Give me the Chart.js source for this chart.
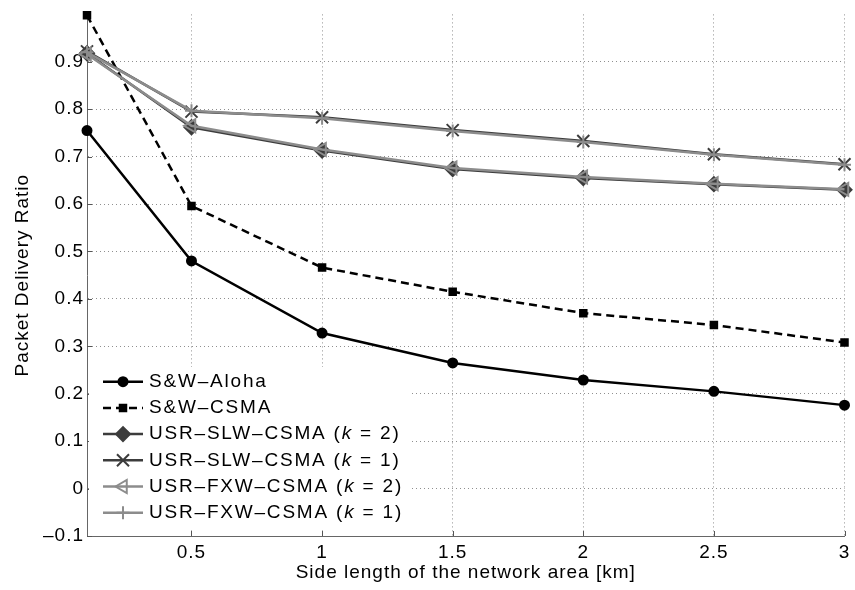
<!DOCTYPE html>
<html>
<head>
<meta charset="utf-8">
<script src="https://cdn.jsdelivr.net/npm/chart.js@4/dist/chart.umd.min.js"></script>
<style>
  html, body { margin: 0; padding: 0; background: #fff; }
  #wrap { width: 855px; height: 590px; }
</style>
</head>
<body>
<div id="wrap"><canvas id="pdrChart" width="855" height="590"></canvas></div>
<script>
// side length of the network area [km]
const sideLen = [0.1, 0.5, 1, 1.5, 2, 2.5, 3];

// packet delivery ratio per protocol
const swAloha = [0.755, 0.480, 0.328, 0.265, 0.229, 0.205, 0.176];
const swCsma  = [0.998, 0.596, 0.466, 0.415, 0.370, 0.345, 0.308];
const slwK2   = [0.918, 0.762, 0.713, 0.674, 0.655, 0.642, 0.630];
const slwK1   = [0.922, 0.795, 0.783, 0.756, 0.733, 0.705, 0.684];
const fxwK2   = [0.916, 0.765, 0.715, 0.676, 0.657, 0.643, 0.631];
const fxwK1   = [0.920, 0.797, 0.781, 0.754, 0.731, 0.704, 0.683];

const seriesNames = [
  'S&W–Aloha',
  'S&W–CSMA',
  'USR–SLW–CSMA (k = 2)',
  'USR–SLW–CSMA (k = 1)',
  'USR–FXW–CSMA (k = 2)',
  'USR–FXW–CSMA (k = 1)'
];

const xTicks = [0.5, 1, 1.5, 2, 2.5, 3];
const yTicks = [-0.1, 0, 0.1, 0.2, 0.3, 0.4, 0.5, 0.6, 0.7, 0.8, 0.9];

const FONT = '"Liberation Sans", Arial, Helvetica, sans-serif';
const DARK = '#3c3c3c';
const LIGHT = '#8c8c8c';

const pts = arr => arr.map((v, i) => ({ x: sideLen[i], y: v }));

function series(label, data, color, style, extra) {
  return Object.assign({
    label, data: pts(data),
    borderColor: color, borderWidth: 2.5,
    pointBorderColor: color, pointBackgroundColor: color,
    pointStyle: style, pointBorderWidth: 2,
    tension: 0, clip: false, fill: false
  }, extra);
}

const datasets = [
  series(seriesNames[0], swAloha, '#000', 'circle', { pointRadius: 4.5, order: 5 }),
  series(seriesNames[1], swCsma, '#000', 'rect', { pointRadius: 4.6, borderDash: [8, 5], order: 4 }),
  series(seriesNames[2], slwK2, DARK, 'rectRot', { pointRadius: 7, order: 3 }),
  series(seriesNames[3], slwK1, DARK, 'crossRot', { pointRadius: 8.5, order: 2 }),
  series(seriesNames[4], fxwK2, LIGHT, 'triangle', { pointRadius: 7.5, pointRotation: -90,
    pointBackgroundColor: 'rgba(0,0,0,0)', order: 1 }),
  series(seriesNames[5], fxwK1, LIGHT, 'cross', { pointRadius: 6.5, order: 0 })
];

// inward tick marks + legend box drawn like the matlab figure
const axisDecor = {
  id: 'axisDecor',
  beforeDraw(chart) {
    chart.ctx.letterSpacing = '1px';
  },
  afterDraw(chart) {
    const ctx = chart.ctx;
    const { left, bottom } = chart.chartArea;
    const xs = chart.scales.x, ys = chart.scales.y;
    ctx.save();
    ctx.strokeStyle = '#555';
    ctx.lineWidth = 1;
    ctx.beginPath();
    xTicks.forEach(v => {
      const px = Math.round(xs.getPixelForValue(v)) + 0.5;
      ctx.moveTo(px, bottom); ctx.lineTo(px, bottom - 5);
    });
    yTicks.forEach(v => {
      const py = Math.round(ys.getPixelForValue(v)) + 0.5;
      ctx.moveTo(left, py); ctx.lineTo(left + 5, py);
    });
    ctx.stroke();

    // legend
    ctx.fillStyle = '#fff';
    ctx.fillRect(left + 2, 367, 322, 161);
    ctx.letterSpacing = '1.8px';
    ctx.textBaseline = 'middle';
    chart.data.datasets.forEach((ds, i) => {
      const y = 381.7 + i * 26.2;
      ctx.save();
      ctx.strokeStyle = ds.borderColor;
      ctx.lineWidth = ds.borderWidth;
      ctx.setLineDash(ds.borderDash || []);
      ctx.beginPath();
      ctx.moveTo(103, y); ctx.lineTo(143, y);
      ctx.stroke();
      ctx.setLineDash([]);
      ctx.fillStyle = ds.pointBackgroundColor;
      ctx.strokeStyle = ds.pointBorderColor;
      ctx.lineWidth = ds.pointBorderWidth;
      Chart.helpers.drawPoint(ctx, {
        pointStyle: ds.pointStyle, radius: ds.pointRadius,
        rotation: ds.pointRotation || 0, borderWidth: ds.pointBorderWidth
      }, 123, y);
      ctx.restore();

      // label, with italic k
      ctx.fillStyle = '#000';
      let x = 149;
      const m = ds.label.match(/^(.*\()k(.*)$/);
      const parts = m ? [[m[1], ''], ['k', 'italic '], [m[2], '']] : [[ds.label, '']];
      parts.forEach(([txt, st]) => {
        ctx.font = st + '19px ' + FONT;
        ctx.fillText(txt, x, y);
        x += ctx.measureText(txt).width;
      });
    });
    ctx.restore();
  }
};

const tickFont = { family: FONT, size: 19 };

new Chart(document.getElementById('pdrChart').getContext('2d'), {
  type: 'line',
  data: { datasets },
  plugins: [axisDecor],
  options: {
    responsive: false,
    animation: false,
    devicePixelRatio: 1,
    layout: { padding: { top: 11, right: 6, left: 0, bottom: 0 } },
    plugins: { legend: { display: false }, tooltip: { enabled: false } },
    scales: {
      x: {
        type: 'linear', min: 0.1, max: 3,
        afterBuildTicks: s => { s.ticks = xTicks.map(v => ({ value: v })); },
        afterFit: s => { s.height = 54; },
        grid: { color: '#8f8f8f', drawTicks: false, lineWidth: 1 },
        border: { color: '#666', width: 1, dash: [1, 3] },
        ticks: { padding: 5, color: '#000', font: tickFont, maxRotation: 0,
          callback: v => String(v) },
        title: { display: true, text: 'Side length of the network area [km]', color: '#000',
          font: tickFont, padding: { top: 0, bottom: 6 } }
      },
      y: {
        type: 'linear', min: -0.1, max: 1.0,
        afterBuildTicks: s => { s.ticks = yTicks.map(v => ({ value: v })); },
        afterFit: s => { s.width = 87; },
        grid: { color: '#8f8f8f', drawTicks: false, lineWidth: 1 },
        border: { color: '#666', width: 1, dash: [1, 3] },
        ticks: { padding: 3, color: '#000', font: tickFont,
          callback: v => v < 0 ? '–' + Math.abs(v).toFixed(1) : (v === 0 ? '0' : v.toFixed(1)) },
        title: { display: true, text: 'Packet Delivery Ratio', color: '#000',
          font: tickFont, padding: { top: 11, bottom: 0 } }
      }
    }
  }
});
</script>
</body>
</html>
